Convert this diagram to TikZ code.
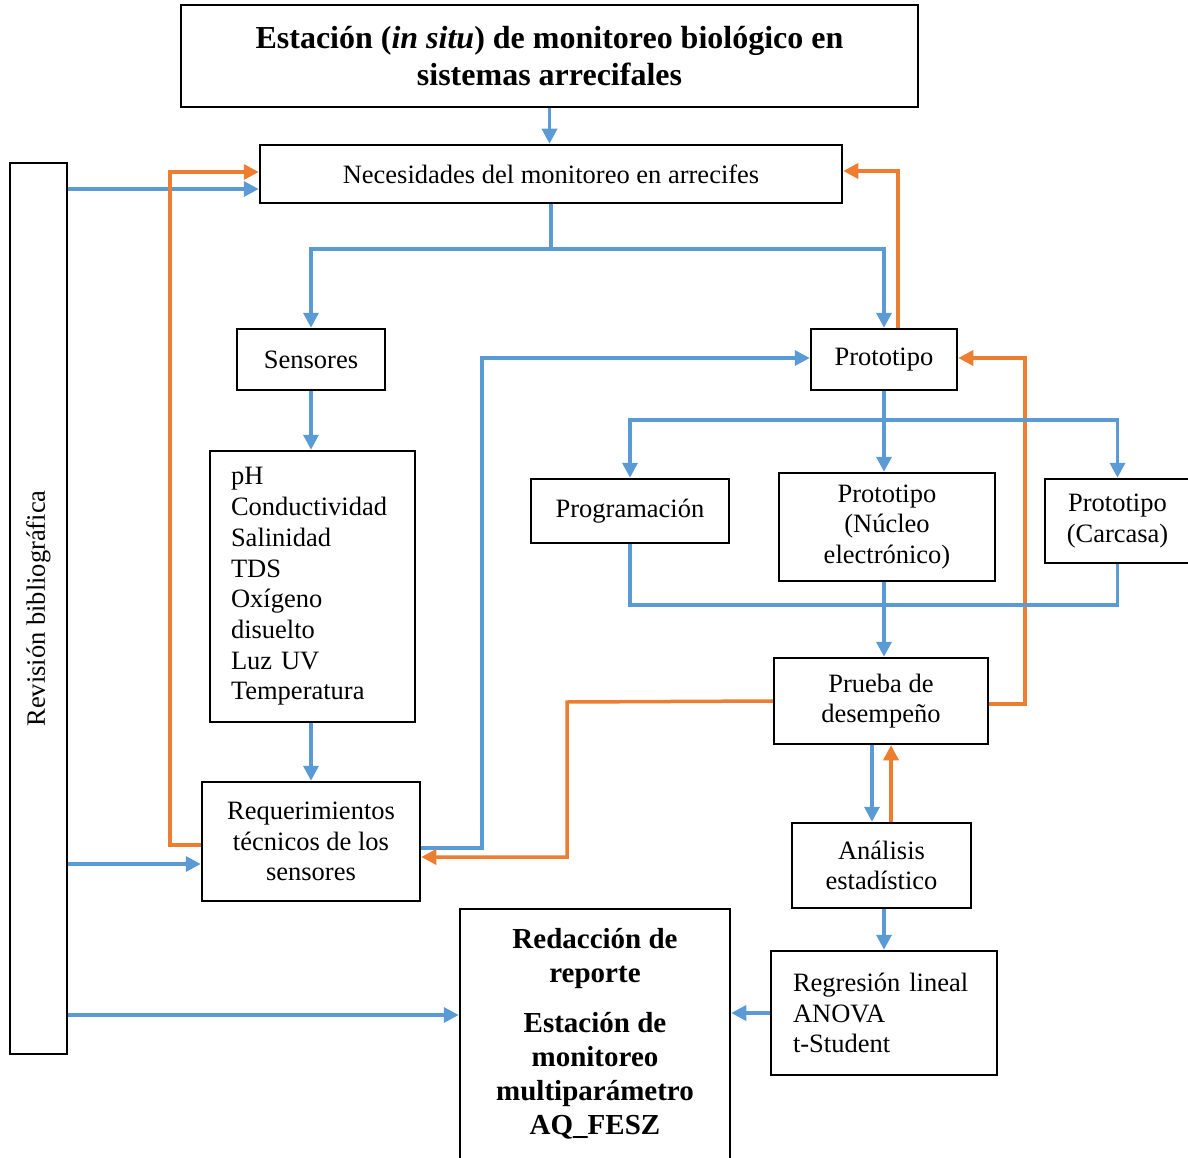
\documentclass[tikz,border=0pt]{standalone}
\usepackage{fontspec}
\setmainfont{Liberation Serif}
\usetikzlibrary{arrows.meta,calc}
\definecolor{cblue}{HTML}{5B9BD5}
\definecolor{corange}{HTML}{ED7D31}
\begin{document}
\begin{tikzpicture}[x=1pt,y=-1pt,
  box/.style={draw=black,line width=2.5pt,rectangle,inner sep=0pt,align=center,
    font=\fontsize{26.5}{30.7}\selectfont},
  bl/.style={draw=cblue,line width=3.5pt},
  orl/.style={draw=corange,line width=3.5pt},
  tip/.style={-{Triangle[length=15pt,width=15pt]}},
]
\useasboundingbox (0,0) rectangle (1188,1158);
% nodes
\node[box,minimum width=737,minimum height=102,font=\bfseries\fontsize{32}{37}\selectfont] (title) at (549.5,56)
  {Estación (\textit{in situ}) de monitoreo biológico en\\sistemas arrecifales};
\node[box,minimum width=582,minimum height=58] (nec) at (551,174) {Necesidades del monitoreo en arrecifes};
\node[box,minimum width=57,minimum height=891] (rev) at (38.5,608.5) {\rotatebox{90}{Revisión bibliográfica}};
\node[box,minimum width=148,minimum height=61] (sens) at (311,359.5) {Sensores};
\node[box,minimum width=146,minimum height=61] (proto) at (884,359.5) {Prototipo};
\node[box,minimum width=205,minimum height=271,text width=163,align=left,inner xsep=21pt] (list) at (312.5,586.5)
  {pH\\Conductividad\\Salinidad\\TDS\\Oxígeno\\disuelto\\Luz UV\\Temperatura};
\node[box,minimum width=218,minimum height=119] (req) at (311,841.5) {Requerimientos\\técnicos de los\\sensores};
\node[box,minimum width=198,minimum height=64] (prog) at (630,511) {Programación};
\node[box,minimum width=216,minimum height=108] (nuc) at (887,527) {Prototipo\\(Núcleo\\electrónico)};
\node[box,minimum width=145,minimum height=84] (carc) at (1117.5,521) {Prototipo\\(Carcasa)};
\node[box,minimum width=214,minimum height=86] (prueba) at (881,701) {Prueba de\\desempeño};
\node[box,minimum width=179,minimum height=85] (anal) at (881.5,865.5) {Análisis\\estadístico};
\node[box,minimum width=226,minimum height=124,text width=182,align=left,inner xsep=22pt] (reg) at (884,1013)
  {Regresión lineal\\ANOVA\\t-Student};
\node[box,minimum width=270,minimum height=250,font=\bfseries\fontsize{29}{34}\selectfont] (red) at (595,1034)
  {Redacción de\\reporte\\[16pt]Estación de\\monitoreo\\multiparámetro\\AQ\_FESZ};
% connectors
\draw[bl,tip] (title.south) -- (title.south |- nec.north);
\draw[bl,tip] (rev.east |- 0,189) -- (nec.west |- 0,189);
\draw[orl,tip] (req.west |- 0,845) -- (170,845) -- (170,172) -- (nec.west |- 0,172);
\draw[orl,tip] (proto.north -| 898,0) -- (898,171) -- (nec.east |- 0,171);
\draw[bl] (nec.south) -- (nec.south |- 0,249);
\draw[bl,tip] (nec.south |- 0,249) -| (sens.north);
\draw[bl,tip] (nec.south |- 0,249) -| (proto.north);
\draw[bl,tip] (sens.south) -- (sens.south |- list.north);
\draw[bl,tip] (req.north |- list.south) -- (req.north);
\draw[bl,tip] (rev.east |- 0,864) -- (req.west |- 0,864);
\draw[bl,tip] (req.east |- 0,848) -- (482,848) -- (482,358) -- (proto.west |- 0,358);
\draw[orl,tip] (prueba.west) -- (567,702) -- (567,857) -- (req.east |- 0,857);
\draw[orl,tip] (prueba.east |- 0,704) -- (1025,704) -- (1025,358) -- (proto.east |- 0,358);
\draw[bl,tip] (proto.south) -- (proto.south |- nuc.north);
\draw[bl,tip] (proto.south |- 0,420) -| (prog.north);
\draw[bl,tip] (proto.south |- 0,420) -| (carc.north);
\draw[bl] (prog.south) -- (prog.south |- 0,605) -- (carc.south |- 0,605) -- (carc.south);
\draw[bl,tip] (proto.south |- nuc.south) -- (proto.south |- prueba.north);
\draw[bl,tip] (prueba.south -| 872,0) -- (anal.north -| 872,0);
\draw[orl,tip] (anal.north -| 891,0) -- (prueba.south -| 891,0);
\draw[bl,tip] (reg.north |- anal.south) -- (reg.north);
\draw[bl,tip] (reg.west) -- (red.east |- reg.west);
\draw[bl,tip] (rev.east |- 0,1015) -- (red.west |- 0,1015);
\end{tikzpicture}
\end{document}
